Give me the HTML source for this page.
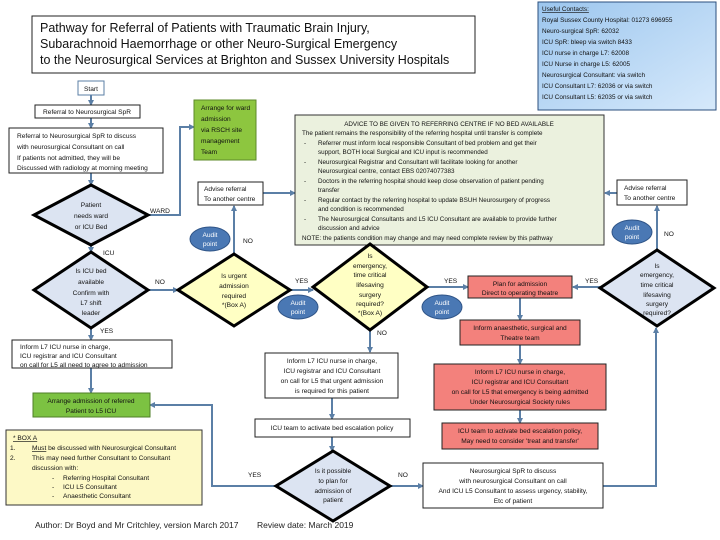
<!DOCTYPE html>
<html><head><meta charset="utf-8"><style>
html,body{margin:0;padding:0;background:#fff;}
svg{display:block;font-family:"Liberation Sans",sans-serif;}
.t{font-size:6.6px;fill:#111;}
.c{text-anchor:middle;}
.ln{stroke:#5b7fa6;stroke-width:2;fill:none;}
.bx{stroke:#222;stroke-width:1;}
.dm{stroke:#000;stroke-width:3;}
.au{fill:#4a78b4;stroke:#2f5487;stroke-width:1;}
.aut{font-size:6.6px;fill:#fff;text-anchor:middle;}
</style></head><body>
<svg width="720" height="540" viewBox="0 0 720 540" xmlns="http://www.w3.org/2000/svg">
<defs><marker id="a" markerWidth="6" markerHeight="6" refX="5" refY="3" orient="auto" markerUnits="userSpaceOnUse"><path d="M0,0 L6,3 L0,6z" fill="#5b7fa6"/></marker></defs>

<!-- connectors -->
<g class="ln">
<path d="M91,95 V105" marker-end="url(#a)"/>
<path d="M91,118 V128" marker-end="url(#a)"/>
<path d="M91,173 V185" marker-end="url(#a)"/>
<path d="M148,215 H180 V127 H194" marker-end="url(#a)"/>
<path d="M263,193 H295" marker-end="url(#a)"/>
<path d="M617,193 H605" marker-end="url(#a)"/>
<path d="M234,255 V206" marker-end="url(#a)"/>
<path d="M657,250 V206" marker-end="url(#a)"/>
<path d="M91,245 V252" marker-end="url(#a)"/>
<path d="M148,290 H178" marker-end="url(#a)"/>
<path d="M290,290 H313" marker-end="url(#a)"/>
<path d="M427,287 H468" marker-end="url(#a)"/>
<path d="M600,287 H573" marker-end="url(#a)"/>
<path d="M520,298 V320" marker-end="url(#a)"/>
<path d="M520,345 V364" marker-end="url(#a)"/>
<path d="M520,410 V423" marker-end="url(#a)"/>
<path d="M370,330 V352" marker-end="url(#a)"/>
<path d="M332,398 V419" marker-end="url(#a)"/>
<path d="M332,437 V451" marker-end="url(#a)"/>
<path d="M91,328 V340" marker-end="url(#a)"/>
<path d="M91,368 V393" marker-end="url(#a)"/>
<path d="M276,486 H212 V405 H150" marker-end="url(#a)"/>
<path d="M390,486 H423" marker-end="url(#a)"/>
<path d="M603,486 H656 V328" marker-end="url(#a)"/>
</g>

<!-- title -->
<rect x="32" y="16" width="443" height="57" fill="#fff" class="bx"/>
<text x="40" y="32" style="font-size:12.5px" fill="#111">Pathway for Referral of Patients with Traumatic Brain Injury,</text>
<text x="40" y="48" style="font-size:12.5px" fill="#111">Subarachnoid Haemorrhage or other Neuro-Surgical Emergency</text>
<text x="40" y="64" style="font-size:12.5px" fill="#111">to the Neurosurgical Services at Brighton and Sussex University Hospitals</text>

<!-- contacts -->
<defs><linearGradient id="g" x1="0" y1="0" x2="1" y2="1"><stop offset="0" stop-color="#9cc6ee"/><stop offset="1" stop-color="#d6e9fb"/></linearGradient></defs>
<rect x="538" y="2" width="178" height="108" fill="url(#g)" stroke="#2b4f7e"/>
<g class="t" style="font-size:6.4px">
<text x="542" y="11" text-decoration="underline">Useful Contacts:</text>
<text x="542" y="22">Royal Sussex County Hospital: 01273 696955</text>
<text x="542" y="33">Neuro-surgical SpR: 62032</text>
<text x="542" y="44">ICU SpR: bleep via switch 8433</text>
<text x="542" y="55">ICU nurse in charge L7: 62008</text>
<text x="542" y="66">ICU Nurse in charge L5: 62005</text>
<text x="542" y="77">Neurosurgical Consultant: via switch</text>
<text x="542" y="88">ICU Consultant L7: 62036 or via switch</text>
<text x="542" y="99">ICU Consultant L5: 62035 or via switch</text>
</g>

<!-- left column -->
<rect x="78" y="81" width="26" height="14" fill="#fff" stroke="#5b7fa6"/>
<text x="91" y="91" class="t c">Start</text>
<rect x="35" y="105" width="105" height="13" fill="#fff" class="bx"/>
<text x="87" y="114" class="t c">Referral to Neurosurgical SpR</text>
<rect x="9" y="128" width="154" height="45" fill="#fff" class="bx"/>
<g class="t"><text x="17" y="138">Referral to Neurosurgical SpR to discuss</text><text x="17" y="149">with neurosurgical Consultant on call</text><text x="17" y="160">If patients not admitted, they will be</text><text x="17" y="170">Discussed with radiology at morning meeting</text></g>

<rect x="194" y="100" width="62" height="60" fill="#8dc63f" stroke="#5d8a2a"/>
<g class="t"><text x="201" y="110">Arrange for ward</text><text x="201" y="121">admission</text><text x="201" y="132">via RSCH site</text><text x="201" y="143">management</text><text x="201" y="154">Team</text></g>

<polygon points="91,185 148,215 91,245 34,215" fill="#dce4f2" class="dm"/>
<g class="t c"><text x="91" y="207">Patient</text><text x="91" y="218">needs ward</text><text x="91" y="229">or ICU Bed</text></g>
<text x="150" y="213" class="t">WARD</text>
<text x="103" y="255" class="t">ICU</text>

<rect x="198" y="182" width="65" height="23" fill="#fff" class="bx"/>
<g class="t"><text x="204" y="191">Advise referral</text><text x="204" y="201">To another centre</text></g>
<ellipse cx="210" cy="239" rx="20" ry="12" class="au"/>
<text x="210" y="237" class="aut">Audit</text><text x="210" y="246" class="aut">point</text>
<text x="243" y="243" class="t">NO</text>

<!-- advice -->
<rect x="295" y="115" width="309" height="130" fill="#ebf1de" stroke="#333"/>
<g class="t" style="font-size:6.3px">
<text x="449" y="126" class="c">ADVICE TO BE GIVEN TO REFERRING CENTRE IF NO BED AVAILABLE</text>
<text x="302" y="135">The patient remains the responsibility of the referring hospital until transfer is complete</text>
<text x="304" y="145">-</text><text x="318" y="145">Referrer must inform local responsible Consultant of bed problem and get their</text>
<text x="318" y="154">support, BOTH local Surgical and ICU input is recommended</text>
<text x="304" y="164">-</text><text x="318" y="164">Neurosurgical Registrar and Consultant will facilitate looking for another</text>
<text x="318" y="173">Neurosurgical centre, contact EBS 02074077383</text>
<text x="304" y="183">-</text><text x="318" y="183">Doctors in the referring hospital should keep close observation of patient pending</text>
<text x="318" y="192">transfer</text>
<text x="304" y="202">-</text><text x="318" y="202">Regular contact by the referring hospital to update BSUH Neurosurgery of progress</text>
<text x="318" y="211">and condition is recommended</text>
<text x="304" y="221">-</text><text x="318" y="221">The Neurosurgical Consultants and L5 ICU Consultant are available to provide further</text>
<text x="318" y="230">discussion and advice</text>
<text x="302" y="240">NOTE: the patients condition may change and may need complete review by this pathway</text>
</g>

<!-- right top -->
<rect x="617" y="180" width="70" height="25" fill="#fff" class="bx"/>
<g class="t"><text x="624" y="190">Advise referral</text><text x="624" y="200">To another centre</text></g>
<ellipse cx="632" cy="232" rx="20" ry="12" class="au"/>
<text x="632" y="230" class="aut">Audit</text><text x="632" y="239" class="aut">point</text>
<text x="664" y="236" class="t">NO</text>

<!-- diamond row -->
<polygon points="91,252 148,290 91,328 34,290" fill="#dce4f2" class="dm"/>
<g class="t c"><text x="91" y="273">Is ICU bed</text><text x="91" y="284">available</text><text x="91" y="295">Confirm with</text><text x="91" y="305">L7 shift</text><text x="91" y="315">leader</text></g>
<text x="155" y="284" class="t">NO</text>
<text x="100" y="333" class="t">YES</text>

<polygon points="234,254 290,290 234,326 178,290" fill="#ffffc4" class="dm"/>
<g class="t c"><text x="234" y="278">Is urgent</text><text x="234" y="288">admission</text><text x="234" y="298">required</text><text x="234" y="307">*(Box A)</text></g>
<text x="295" y="283" class="t">YES</text>
<ellipse cx="298" cy="307" rx="20" ry="12" class="au"/>
<text x="298" y="305" class="aut">Audit</text><text x="298" y="314" class="aut">point</text>

<polygon points="370,244 427,287 370,330 313,287" fill="#ffffc4" class="dm"/>
<g class="t c"><text x="370" y="258">Is</text><text x="370" y="268">emergency,</text><text x="370" y="277">time critical</text><text x="370" y="287">lifesaving</text><text x="370" y="297">surgery</text><text x="370" y="306">required?</text><text x="370" y="315">*(Box A)</text></g>
<text x="444" y="283" class="t">YES</text>
<ellipse cx="442" cy="307" rx="20" ry="12" class="au"/>
<text x="442" y="305" class="aut">Audit</text><text x="442" y="314" class="aut">point</text>
<text x="377" y="335" class="t">NO</text>

<rect x="468" y="276" width="104" height="22" fill="#f3817c" class="bx"/>
<g class="t c"><text x="520" y="286">Plan for admission</text><text x="520" y="295">Direct to operating theatre</text></g>
<text x="585" y="283" class="t">YES</text>

<polygon points="657,250 714,288 657,326 600,288" fill="#dce4f2" class="dm"/>
<g class="t c"><text x="657" y="268">Is</text><text x="657" y="277">emergency,</text><text x="657" y="287">time critical</text><text x="657" y="297">lifesaving</text><text x="657" y="306">surgery</text><text x="657" y="315">required?</text></g>

<rect x="460" y="320" width="120" height="25" fill="#f3817c" class="bx"/>
<g class="t c"><text x="520" y="330">Inform anaesthetic, surgical and</text><text x="520" y="340">Theatre team</text></g>
<rect x="434" y="364" width="172" height="46" fill="#f3817c" class="bx"/>
<g class="t c"><text x="520" y="374">Inform L7 ICU nurse in charge,</text><text x="520" y="384">ICU registrar and ICU Consultant</text><text x="520" y="394">on call for L5 that emergency is being admitted</text><text x="520" y="404">Under Neurosurgical Society rules</text></g>
<rect x="442" y="423" width="156" height="26" fill="#f3817c" class="bx"/>
<g class="t c"><text x="520" y="433">ICU team to activate bed escalation policy,</text><text x="520" y="443">May need to consider 'treat and transfer'</text></g>

<rect x="265" y="353" width="133" height="45" fill="#fff" class="bx"/>
<g class="t c"><text x="332" y="363">Inform L7 ICU nurse in charge,</text><text x="332" y="373">ICU registrar and ICU Consultant</text><text x="332" y="383">on call for L5 that urgent admission</text><text x="332" y="393">is required for this patient</text></g>
<rect x="255" y="419" width="155" height="18" fill="#fff" class="bx"/>
<text x="332" y="430" class="t c">ICU team to activate bed escalation policy</text>

<polygon points="333,451 390,486 333,521 276,486" fill="#dce4f2" class="dm"/>
<g class="t c"><text x="333" y="473">Is it possible</text><text x="333" y="483">to plan for</text><text x="333" y="493">admission of</text><text x="333" y="502">patient</text></g>
<text x="248" y="477" class="t">YES</text>
<text x="398" y="477" class="t">NO</text>

<rect x="423" y="463" width="180" height="45" fill="#fff" class="bx"/>
<g class="t c"><text x="513" y="473">Neurosurgical SpR to discuss</text><text x="513" y="483">with neurosurgical Consultant on call</text><text x="513" y="493">And ICU L5 Consultant to assess urgency, stability,</text><text x="513" y="503">Etc of patient</text></g>

<rect x="12" y="340" width="160" height="28" fill="#fff" class="bx"/>
<g class="t"><text x="20" y="349">Inform L7 ICU nurse in charge,</text><text x="20" y="358">ICU registrar and ICU Consultant</text><text x="20" y="367">on call for L5 all need to agree to admission</text></g>
<rect x="33" y="393" width="117" height="24" fill="#7cc242" stroke="#4f7f28"/>
<g class="t c"><text x="91" y="403">Arrange admission of referred</text><text x="91" y="413">Patient to L5 ICU</text></g>

<rect x="6" y="430" width="196" height="75" fill="#fdf9c6" stroke="#333"/>
<g class="t">
<text x="13" y="440" text-decoration="underline">* BOX A</text>
<text x="10" y="450">1.</text><text x="32" y="450"><tspan text-decoration="underline">Must</tspan> be discussed with Neurosurgical Consultant</text>
<text x="10" y="460">2.</text><text x="32" y="460">This may need further Consultant to Consultant</text>
<text x="32" y="470">discussion with:</text>
<text x="52" y="480">-</text><text x="63" y="480">Referring Hospital Consultant</text>
<text x="52" y="489">-</text><text x="63" y="489">ICU L5 Consultant</text>
<text x="52" y="498">-</text><text x="63" y="498">Anaesthetic Consultant</text>
</g>

<text x="35" y="528" style="font-size:8.5px" fill="#222">Author: Dr Boyd and Mr Critchley, version March 2017</text>
<text x="257" y="528" style="font-size:8.5px" fill="#222">Review date: March 2019</text>
</svg>
</body></html>
